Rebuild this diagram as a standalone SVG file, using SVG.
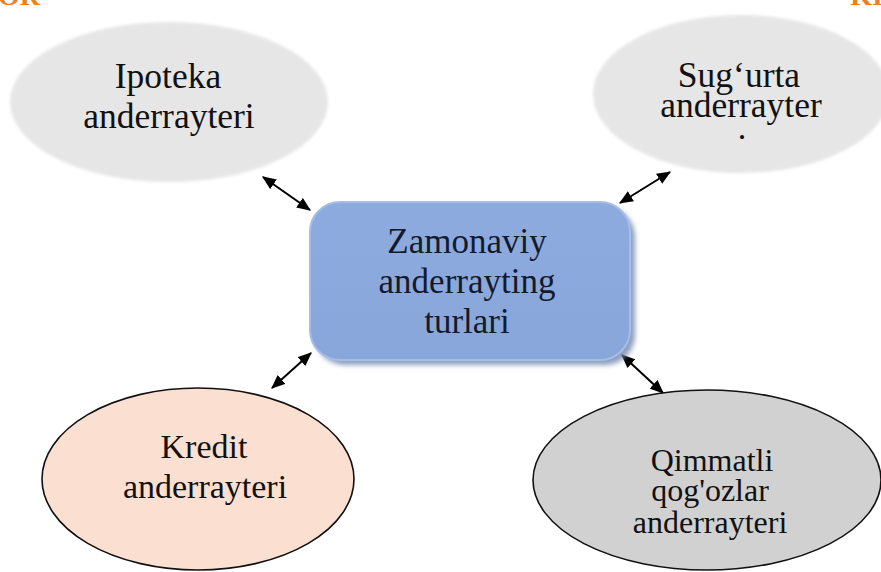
<svg xmlns="http://www.w3.org/2000/svg" width="881" height="572" viewBox="0 0 881 572">
<style>
  text { font-family: 'Liberation Serif', 'Times New Roman', Tinos, 'DejaVu Serif', serif; fill: #111; text-anchor: middle; }
  .lbl { font-size: 34px; }
  .big { font-size: 35.5px; }
  .center { font-size: 35px; fill: #141a2c; }
  .hdr { font-weight: bold; font-size: 28px; fill: #f07f22; }
  .soft { fill: #e6e6e6; filter: url(#blur); }
  .edge { stroke: #111; stroke-width: 1.6; }
  .conn { stroke: #000; stroke-width: 2; fill: none; marker-start: url(#ah); marker-end: url(#ah); }
</style>
<defs>
  <filter id="blur" x="-5%" y="-5%" width="110%" height="110%"><feGaussianBlur stdDeviation="1.5"/></filter>
  <filter id="shadow" x="-10%" y="-10%" width="125%" height="130%"><feGaussianBlur stdDeviation="2.5"/></filter>
  <linearGradient id="blue" x1="0" y1="0" x2="0" y2="1">
    <stop offset="0" stop-color="#8dabdf"/>
    <stop offset="1" stop-color="#88a6d9"/>
  </linearGradient>
  <marker id="ah" viewBox="0 0 12 10" refX="11" refY="5" markerWidth="7" markerHeight="6" orient="auto-start-reverse" markerUnits="strokeWidth">
    <path d="M0,0 L12,5 L0,10 Z" fill="#000"/>
  </marker>
</defs>
<rect width="881" height="572" fill="#fff"/>
<text class="hdr" x="-2" y="5" style="text-anchor:start">OR</text>
<text class="hdr" x="883" y="5" style="text-anchor:end">KI</text>

<g id="connectors">
  <line class="conn" x1="263" y1="177" x2="310" y2="210"/>
  <line class="conn" x1="670" y1="172" x2="620" y2="203"/>
  <line class="conn" x1="311" y1="353" x2="272" y2="388"/>
  <line class="conn" x1="622" y1="355" x2="663" y2="393"/>
</g>

<g id="ipoteka">
  <ellipse class="soft" cx="169" cy="102" rx="159" ry="80"/>
  <text class="big" x="168" y="88">Ipoteka</text>
  <text class="big" x="169" y="128">anderrayteri</text>
</g>

<g id="sugurta">
  <ellipse class="soft" cx="741" cy="94" rx="148" ry="79"/>
  <text class="big" x="739" y="87">Sug‘urta</text>
  <text class="big" x="741" y="117">anderrayter</text>
  <text class="lbl" x="742" y="139">.</text>
</g>

<g id="zamonaviy">
  <rect x="315" y="207" width="320" height="158" rx="30" fill="#6f86ad" opacity="0.8" filter="url(#shadow)"/>
  <rect x="310" y="202" width="320" height="158" rx="30" fill="url(#blue)" stroke="#a6bde6" stroke-width="2"/>
  <text class="center" x="467" y="253">Zamonaviy</text>
  <text class="center" x="467" y="293">anderrayting</text>
  <text class="center" x="467" y="333">turlari</text>
</g>

<g id="kredit">
  <ellipse class="edge" cx="198" cy="479" rx="156" ry="91" fill="#fbe0d2"/>
  <text class="lbl" x="204" y="458">Kredit</text>
  <text class="lbl" x="205" y="498">anderrayteri</text>
</g>

<g id="qimmatli">
  <ellipse class="edge" cx="707" cy="480" rx="174" ry="90" fill="#d1d1d1"/>
  <text class="lbl" x="712" y="471" style="font-size:32px">Qimmatli</text>
  <text class="lbl" x="710" y="501" style="font-size:32px">qog'ozlar</text>
  <text class="lbl" x="710" y="533" style="font-size:32px">anderrayteri</text>
</g>
</svg>
